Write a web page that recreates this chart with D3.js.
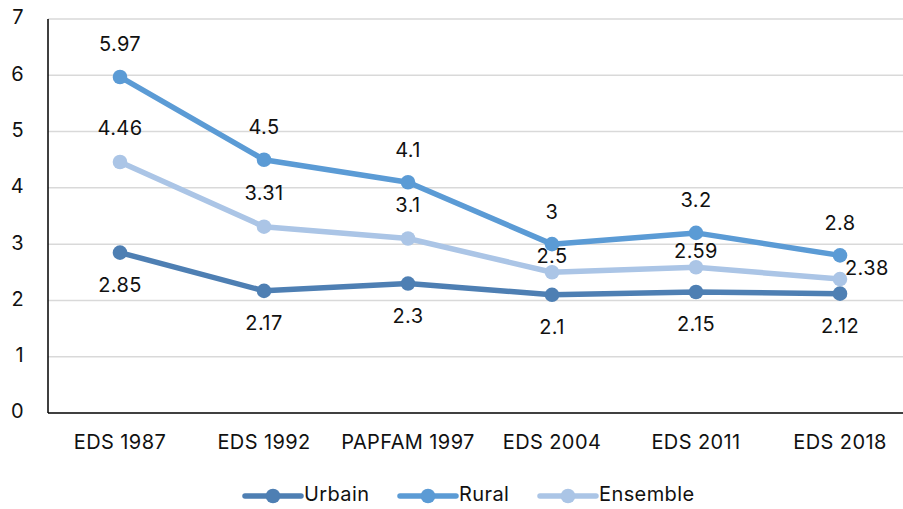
<!DOCTYPE html>
<html>
<head>
<meta charset="utf-8">
<script src="https://cdn.jsdelivr.net/npm/d3@7"></script>
<style>
  body { margin: 0; background: #fff; }
  svg { font-family: Inter, "Noto Sans", sans-serif; }
  svg text { letter-spacing: 0.4px; fill: #111; }
</style>
</head>
<body>
<svg width="903" height="509"></svg>
<script>
const categories = ["EDS 1987", "EDS 1992", "PAPFAM 1997", "EDS 2004", "EDS 2011", "EDS 2018"];
const urbain = [2.85, 2.17, 2.3, 2.1, 2.15, 2.12];
const rural = [5.97, 4.5, 4.1, 3, 3.2, 2.8];
const ensemble = [4.46, 3.31, 3.1, 2.5, 2.59, 2.38];
const yTicks = [0, 1, 2, 3, 4, 5, 6, 7];

const series = [
    { name: "Urbain", values: urbain, color: "#4e7fb3" },
    { name: "Rural", values: rural, color: "#5b9bd5" },
    { name: "Ensemble", values: ensemble, color: "#abc5e6" }
];

// décalage des étiquettes (dx, dy, ancrage) par série
function labelOffset(name, i) {
    if (name === "Urbain") return [0, 34, "middle"];
    if (name === "Rural") return [0, -31, "middle"];
    if (i === 5) return [5, -9, "start"];
    if (i === 3 || i === 4) return [0, -15, "middle"];
    return [0, -32, "middle"];
}

const svg = d3.select("svg");
const plotLeft = 48, plotTop = 19, plotBottom = 413;
const bandW = 144;

const x = d3.scaleBand()
    .domain(categories)
    .range([plotLeft, plotLeft + bandW * categories.length]);

const y = d3.scaleLinear()
    .domain([0, 7])
    .range([plotBottom, plotTop]);

const cx = i => x(categories[i]) + x.bandwidth() / 2;

// grille horizontale
svg.append("g")
    .selectAll("line")
    .data(yTicks.filter(d => d > 0))
    .join("line")
    .attr("x1", plotLeft)
    .attr("x2", 903)
    .attr("y1", d => y(d))
    .attr("y2", d => y(d))
    .attr("stroke", "#d9d9d9")
    .attr("stroke-width", 1.5);

// axes
svg.append("line")
    .attr("x1", plotLeft).attr("x2", plotLeft)
    .attr("y1", y(7)).attr("y2", y(0))
    .attr("stroke", "#000").attr("stroke-width", 1.5);
svg.append("line")
    .attr("x1", plotLeft).attr("x2", 903)
    .attr("y1", y(0)).attr("y2", y(0))
    .attr("stroke", "#000").attr("stroke-width", 1.5);

svg.append("g")
    .selectAll("text")
    .data(yTicks)
    .join("text")
    .attr("x", 24)
    .attr("y", d => y(d))
    .attr("text-anchor", "end")
    .attr("dominant-baseline", "middle")
    .style("font-size", "20px")
    .text(d => d);

svg.append("g")
    .selectAll("text")
    .data(categories)
    .join("text")
    .attr("x", d => x(d) + x.bandwidth() / 2)
    .attr("y", 444)
    .attr("text-anchor", "middle")
    .attr("dominant-baseline", "middle")
    .style("font-size", "20px")
    .text(d => d);

const line = d3.line()
    .x((d, i) => cx(i))
    .y(d => y(d));

series.forEach(s => {
    const g = svg.append("g");
    g.append("path")
        .attr("d", line(s.values))
        .attr("fill", "none")
        .attr("stroke", s.color)
        .attr("stroke-width", 5.5)
        .attr("stroke-linejoin", "round");
    g.selectAll("circle")
        .data(s.values)
        .join("circle")
        .attr("cx", (d, i) => cx(i))
        .attr("cy", d => y(d))
        .attr("r", 7.3)
        .attr("fill", s.color);
});

// étiquettes de données
series.forEach(s => {
    svg.append("g")
        .selectAll("text")
        .data(s.values)
        .join("text")
        .attr("x", (d, i) => cx(i) + labelOffset(s.name, i)[0])
        .attr("y", (d, i) => y(d) + labelOffset(s.name, i)[1])
        .attr("text-anchor", (d, i) => labelOffset(s.name, i)[2])
        .attr("dominant-baseline", "middle")
        .style("font-size", "20px")
        .text(d => d);
});

// légende
const legendItems = [
    { s: series[0], x: 245 },
    { s: series[1], x: 400 },
    { s: series[2], x: 540 }
];
const ly = 496;
legendItems.forEach(it => {
    const g = svg.append("g");
    g.append("line")
        .attr("x1", it.x).attr("x2", it.x + 56)
        .attr("y1", ly).attr("y2", ly)
        .attr("stroke", it.s.color)
        .attr("stroke-width", 5.5)
        .attr("stroke-linecap", "round");
    g.append("circle")
        .attr("cx", it.x + 28).attr("cy", ly)
        .attr("r", 7.3)
        .attr("fill", it.s.color);
    g.append("text")
        .attr("x", it.x + 59)
        .attr("y", ly)
        .attr("dominant-baseline", "middle")
        .style("font-size", "20px")
        .text(it.s.name);
});
</script>
</body>
</html>
